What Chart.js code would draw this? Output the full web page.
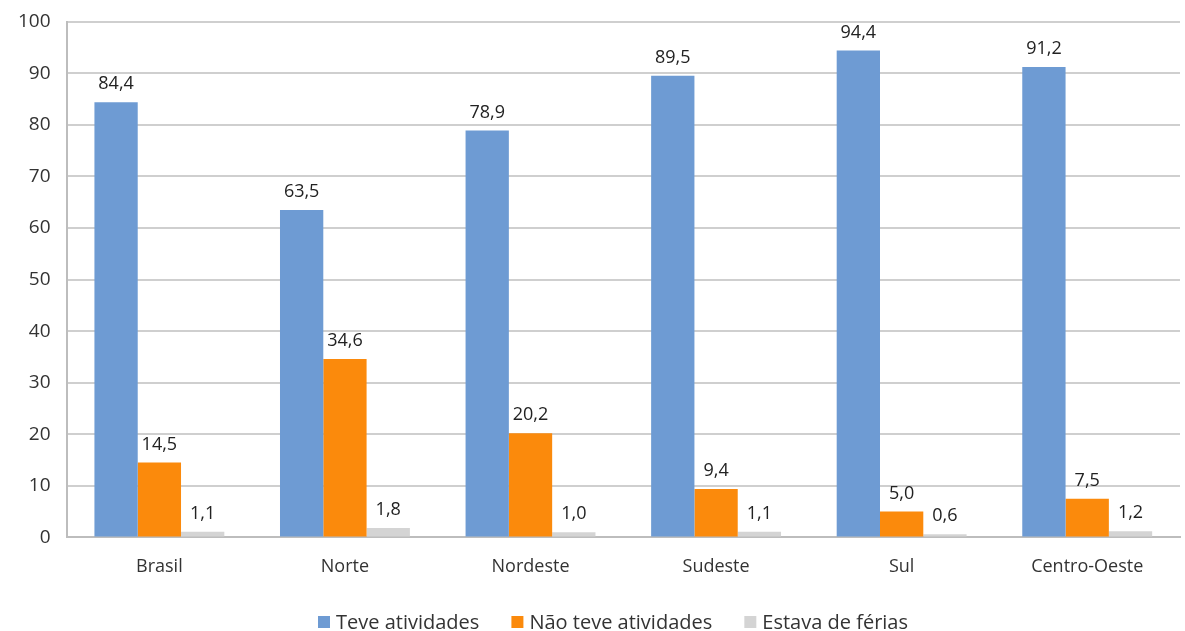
<!DOCTYPE html>
<html lang="pt">
<head>
  <meta charset="UTF-8">
  <title>Atividades escolares por região</title>
  <script src="https://cdn.jsdelivr.net/npm/chart.js"></script>
  <style>
    body { margin: 0; padding: 0; background: #fff; }
    .wrap { width: 1185px; height: 631px; }
  </style>
</head>
<body>
  <div class="wrap"><canvas id="chart"></canvas></div>

  <script>
    const regions = ['Brasil', 'Norte', 'Nordeste', 'Sudeste', 'Sul', 'Centro-Oeste'];
    const teveAtividades = [84.4, 63.5, 78.9, 89.5, 94.4, 91.2];
    const naoTeveAtividades = [14.5, 34.6, 20.2, 9.4, 5.0, 7.5];
    const estavaDeFerias = [1.1, 1.8, 1.0, 1.1, 0.6, 1.2];
    const yTicks = [0, 10, 20, 30, 40, 50, 60, 70, 80, 90, 100];

    const FONT = "'Open Sans', sans-serif";

    // value labels above bars, comma decimals
    const valueLabels = {
      id: 'valueLabels',
      afterDatasetsDraw(chart) {
        const ctx = chart.ctx;
        ctx.save();
        ctx.font = '18px ' + FONT;
        ctx.fillStyle = '#222';
        ctx.textAlign = 'center';
        ctx.textBaseline = 'bottom';
        chart.data.datasets.forEach((ds, i) => {
          chart.getDatasetMeta(i).data.forEach((bar, j) => {
            const txt = ds.data[j].toFixed(1).replace('.', ',');
            ctx.fillText(txt, bar.x, bar.y - 9);
          });
        });
        ctx.restore();
      }
    };

    // legend drawn by hand so the wide gaps between items don't push it down
    const bottomLegend = {
      id: 'bottomLegend',
      afterDraw(chart) {
        const ctx = chart.ctx;
        const startX = 318, endX = 908, y = 622, box = 12, gapText = 6;
        ctx.save();
        ctx.font = '20px ' + FONT;
        ctx.textBaseline = 'middle';
        const items = chart.data.datasets.map(ds => ({
          text: ds.label, color: ds.backgroundColor, w: ctx.measureText(ds.label).width
        }));
        const used = items.reduce((s, it) => s + box + gapText + it.w, 0);
        const gap = (endX - startX - used) / (items.length - 1);
        let x = startX;
        items.forEach(it => {
          ctx.fillStyle = it.color;
          ctx.fillRect(x, y - box / 2, box, box);
          ctx.fillStyle = '#333';
          ctx.fillText(it.text, x + box + gapText, y + 1);
          x += box + gapText + it.w + gap;
        });
        ctx.restore();
      }
    };

    new Chart(document.getElementById('chart'), {
      type: 'bar',
      data: {
        labels: regions,
        datasets: [
          { label: 'Teve atividades', data: teveAtividades, backgroundColor: '#6e9bd3' },
          { label: 'Não teve atividades', data: naoTeveAtividades, backgroundColor: '#fb8a0c' },
          { label: 'Estava de férias', data: estavaDeFerias, backgroundColor: '#d4d4d4' }
        ]
      },
      options: {
        responsive: true,
        maintainAspectRatio: false,
        animation: false,
        datasets: { bar: { categoryPercentage: 0.7, barPercentage: 1.0 } },
        layout: { padding: { top: 0, right: 5, left: 2, bottom: 42 } },
        plugins: {
          tooltip: { enabled: false },
          legend: { display: false }
        },
        scales: {
          x: {
            grid: { display: false },
            border: { display: true, color: '#bdbdbd', width: 2 },
            ticks: { font: { family: FONT, size: 18 }, color: '#333', padding: 11 }
          },
          y: {
            min: 0,
            max: 100,
            afterBuildTicks(axis) { axis.ticks = yTicks.map(v => ({ value: v })); },
            grid: { color: '#cfcfcf', lineWidth: 2, drawTicks: false },
            border: { display: true, color: '#bdbdbd', width: 2 },
            ticks: { font: { family: FONT, size: 19, lineHeight: 0.6 }, color: '#333', padding: 16 }
          }
        }
      },
      plugins: [valueLabels, bottomLegend]
    });
  </script>
</body>
</html>
